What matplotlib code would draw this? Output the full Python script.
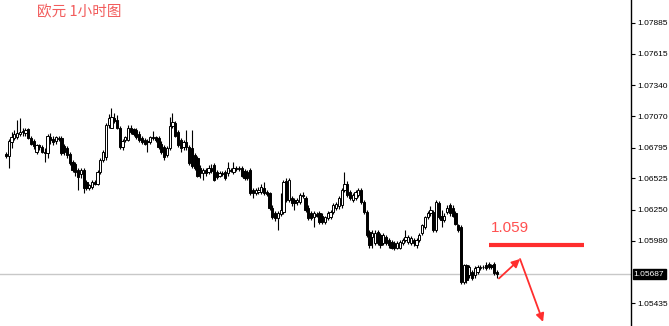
import numpy as np
import matplotlib
matplotlib.use("Agg")
import matplotlib.pyplot as plt

# EURUSD H1 candles
opens = [
    1.0674, 1.0672, 1.0684, 1.0688, 1.0689, 1.0691, 1.0693, 1.0692, 1.0696, 1.0688,
    1.0685, 1.0676, 1.0682, 1.0680, 1.0676, 1.0675, 1.0689, 1.0687, 1.0685, 1.0687,
    1.0688, 1.0681, 1.0679, 1.0674, 1.0667, 1.0665, 1.0660, 1.0656, 1.0660, 1.0649,
    1.0644, 1.0645, 1.0649, 1.0648, 1.0658, 1.0669, 1.0671, 1.0699, 1.0697, 1.0705,
    1.0704, 1.0697, 1.0680, 1.0686, 1.0686, 1.0697, 1.0696, 1.0695, 1.0691, 1.0688,
    1.0686, 1.0685, 1.0684, 1.0689, 1.0689, 1.0688, 1.0683, 1.0680, 1.0673, 1.0679,
    1.0698, 1.0701, 1.0693, 1.0686, 1.0680, 1.0684, 1.0680, 1.0679, 1.0673, 1.0670,
    1.0662, 1.0657, 1.0660, 1.0658, 1.0662, 1.0664, 1.0658, 1.0655, 1.0657, 1.0658,
    1.0657, 1.0660, 1.0658, 1.0662, 1.0661, 1.0662, 1.0659, 1.0658, 1.0660, 1.0642,
    1.0640, 1.0641, 1.0641, 1.0644, 1.0641, 1.0640, 1.0627, 1.0622, 1.0618, 1.0621,
    1.0623, 1.0650, 1.0634, 1.0635, 1.0634, 1.0632, 1.0632, 1.0638, 1.0635, 1.0627,
    1.0622, 1.0619, 1.0621, 1.0622, 1.0620, 1.0614, 1.0618, 1.0619, 1.0623, 1.0627,
    1.0628, 1.0629, 1.0642, 1.0648, 1.0641, 1.0634, 1.0635, 1.0638, 1.0642, 1.0632,
    1.0623, 1.0606, 1.0601, 1.0596, 1.0606, 1.0603, 1.0596, 1.0601, 1.0599, 1.0597,
    1.0596, 1.0592, 1.0592, 1.0596, 1.0599, 1.0597, 1.0596, 1.0599, 1.0594, 1.0599,
    1.0605, 1.0610, 1.0619, 1.0622, 1.0623, 1.0607, 1.0631, 1.0620, 1.0616, 1.0623,
    1.0629, 1.0627, 1.0622, 1.0612, 1.0610, 1.0562, 1.0577, 1.0568, 1.0571, 1.0568,
    1.0571, 1.0574, 1.0575, 1.0577, 1.0578, 1.0577, 1.0578, 1.0571,
]
highs = [
    1.0676, 1.0687, 1.0693, 1.0695, 1.0704, 1.0705, 1.0697, 1.0697, 1.0697, 1.0690,
    1.0687, 1.0683, 1.0683, 1.0682, 1.0679, 1.0691, 1.0692, 1.0690, 1.0690, 1.0690,
    1.0690, 1.0683, 1.0681, 1.0676, 1.0669, 1.0667, 1.0662, 1.0662, 1.0662, 1.0651,
    1.0648, 1.0651, 1.0651, 1.0660, 1.0670, 1.0677, 1.0701, 1.0709, 1.0714, 1.0710,
    1.0708, 1.0698, 1.0687, 1.0690, 1.0699, 1.0699, 1.0697, 1.0697, 1.0694, 1.0690,
    1.0688, 1.0687, 1.0690, 1.0694, 1.0690, 1.0690, 1.0685, 1.0682, 1.0681, 1.0706,
    1.0710, 1.0703, 1.0695, 1.0688, 1.0686, 1.0695, 1.0682, 1.0695, 1.0675, 1.0672,
    1.0664, 1.0662, 1.0662, 1.0664, 1.0665, 1.0666, 1.0660, 1.0659, 1.0659, 1.0660,
    1.0667, 1.0662, 1.0667, 1.0663, 1.0663, 1.0663, 1.0661, 1.0660, 1.0662, 1.0644,
    1.0644, 1.0645, 1.0648, 1.0649, 1.0642, 1.0641, 1.0629, 1.0624, 1.0624, 1.0640,
    1.0651, 1.0653, 1.0653, 1.0637, 1.0635, 1.0635, 1.0640, 1.0641, 1.0637, 1.0629,
    1.0624, 1.0624, 1.0623, 1.0624, 1.0622, 1.0620, 1.0624, 1.0625, 1.0631, 1.0632,
    1.0637, 1.0644, 1.0658, 1.0650, 1.0642, 1.0640, 1.0642, 1.0644, 1.0644, 1.0634,
    1.0625, 1.0607, 1.0607, 1.0607, 1.0607, 1.0605, 1.0605, 1.0603, 1.0600, 1.0599,
    1.0598, 1.0598, 1.0599, 1.0600, 1.0607, 1.0603, 1.0602, 1.0600, 1.0600, 1.0605,
    1.0613, 1.0620, 1.0624, 1.0628, 1.0625, 1.0634, 1.0633, 1.0625, 1.0622, 1.0629,
    1.0631, 1.0629, 1.0624, 1.0613, 1.0612, 1.0578, 1.0578, 1.0577, 1.0572, 1.0576,
    1.0577, 1.0577, 1.0577, 1.0579, 1.0579, 1.0578, 1.0579, 1.0572,
]
lows = [
    1.0670, 1.0662, 1.0679, 1.0686, 1.0687, 1.0690, 1.0690, 1.0690, 1.0687, 1.0682,
    1.0678, 1.0674, 1.0677, 1.0675, 1.0667, 1.0670, 1.0683, 1.0682, 1.0683, 1.0685,
    1.0673, 1.0673, 1.0670, 1.0664, 1.0658, 1.0655, 1.0642, 1.0653, 1.0640, 1.0642,
    1.0642, 1.0643, 1.0647, 1.0647, 1.0656, 1.0667, 1.0669, 1.0697, 1.0697, 1.0701,
    1.0696, 1.0678, 1.0677, 1.0684, 1.0685, 1.0691, 1.0690, 1.0687, 1.0684, 1.0683,
    1.0682, 1.0676, 1.0683, 1.0686, 1.0684, 1.0678, 1.0674, 1.0669, 1.0671, 1.0677,
    1.0697, 1.0689, 1.0680, 1.0676, 1.0677, 1.0677, 1.0664, 1.0662, 1.0660, 1.0654,
    1.0653, 1.0651, 1.0655, 1.0656, 1.0657, 1.0650, 1.0652, 1.0654, 1.0655, 1.0651,
    1.0655, 1.0658, 1.0656, 1.0659, 1.0659, 1.0654, 1.0651, 1.0651, 1.0638, 1.0635,
    1.0638, 1.0639, 1.0639, 1.0638, 1.0637, 1.0625, 1.0617, 1.0615, 1.0607, 1.0620,
    1.0621, 1.0632, 1.0632, 1.0628, 1.0625, 1.0629, 1.0630, 1.0635, 1.0623, 1.0616,
    1.0616, 1.0610, 1.0619, 1.0613, 1.0613, 1.0613, 1.0616, 1.0617, 1.0621, 1.0625,
    1.0626, 1.0627, 1.0641, 1.0636, 1.0634, 1.0632, 1.0634, 1.0636, 1.0630, 1.0621,
    1.0601, 1.0592, 1.0592, 1.0594, 1.0594, 1.0592, 1.0594, 1.0594, 1.0592, 1.0591,
    1.0590, 1.0591, 1.0591, 1.0594, 1.0597, 1.0595, 1.0594, 1.0593, 1.0592, 1.0597,
    1.0603, 1.0608, 1.0617, 1.0620, 1.0606, 1.0606, 1.0617, 1.0610, 1.0614, 1.0621,
    1.0620, 1.0619, 1.0612, 1.0606, 1.0560, 1.0560, 1.0561, 1.0565, 1.0564, 1.0565,
    1.0569, 1.0572, 1.0573, 1.0572, 1.0573, 1.0573, 1.0568, 1.0565,
]
closes = [
    1.0672, 1.0685, 1.0689, 1.0691, 1.0692, 1.0693, 1.0694, 1.0695, 1.0688, 1.0683,
    1.0681, 1.0682, 1.0680, 1.0676, 1.0675, 1.0690, 1.0686, 1.0684, 1.0689, 1.0688,
    1.0675, 1.0676, 1.0673, 1.0666, 1.0660, 1.0658, 1.0654, 1.0660, 1.0644, 1.0644,
    1.0647, 1.0649, 1.0648, 1.0658, 1.0669, 1.0676, 1.0699, 1.0705, 1.0706, 1.0703,
    1.0697, 1.0680, 1.0685, 1.0689, 1.0697, 1.0693, 1.0691, 1.0689, 1.0686, 1.0684,
    1.0683, 1.0684, 1.0689, 1.0688, 1.0686, 1.0680, 1.0676, 1.0671, 1.0679, 1.0698,
    1.0702, 1.0690, 1.0682, 1.0679, 1.0684, 1.0680, 1.0666, 1.0663, 1.0662, 1.0655,
    1.0657, 1.0660, 1.0657, 1.0662, 1.0659, 1.0651, 1.0654, 1.0657, 1.0656, 1.0653,
    1.0662, 1.0659, 1.0662, 1.0661, 1.0662, 1.0655, 1.0653, 1.0653, 1.0640, 1.0640,
    1.0642, 1.0642, 1.0645, 1.0640, 1.0639, 1.0627, 1.0619, 1.0618, 1.0622, 1.0625,
    1.0649, 1.0634, 1.0651, 1.0631, 1.0631, 1.0634, 1.0638, 1.0637, 1.0625, 1.0618,
    1.0618, 1.0622, 1.0620, 1.0614, 1.0614, 1.0619, 1.0622, 1.0623, 1.0629, 1.0630,
    1.0635, 1.0642, 1.0648, 1.0638, 1.0635, 1.0638, 1.0641, 1.0642, 1.0632, 1.0623,
    1.0603, 1.0594, 1.0605, 1.0605, 1.0596, 1.0594, 1.0603, 1.0596, 1.0594, 1.0592,
    1.0592, 1.0596, 1.0597, 1.0599, 1.0601, 1.0601, 1.0600, 1.0596, 1.0599, 1.0603,
    1.0612, 1.0619, 1.0622, 1.0625, 1.0607, 1.0632, 1.0619, 1.0616, 1.0620, 1.0627,
    1.0622, 1.0620, 1.0613, 1.0607, 1.0562, 1.0577, 1.0564, 1.0575, 1.0565, 1.0574,
    1.0575, 1.0575, 1.0575, 1.0574, 1.0575, 1.0575, 1.0570, 1.05687,
]

# price scale labels on the right
tick_prices = [1.07885, 1.07615, 1.07340, 1.07070, 1.06795, 1.06525, 1.06250, 1.05980, 1.05435]
last_price = 1.05687

# annotation: resistance level and expected path
level = 1.0594
level_label = "1.059"
path_x = [177.7, 185.3, 193.6]
path_y = [1.0565, 1.0582, 1.0527]

title = "欧元 1小时图"
red = "#ff2e2e"

o = np.array(opens)
h = np.array(highs)
l = np.array(lows)
c = np.array(closes)
x = np.arange(len(o))

fig = plt.figure(figsize=(6.69, 3.26), dpi=100)
ax = fig.add_axes([0, 0, 631 / 669, 1])

# wicks
ax.vlines(x, l, h, color="black", lw=0.8, zorder=2)
# bodies: bull = white, bear = black
up = c >= o
body_lo = np.minimum(o, c)
body_h = np.abs(c - o)
ax.bar(x[up], body_h[up], bottom=body_lo[up], width=0.8,
       facecolor="white", edgecolor="black", linewidth=0.7, zorder=3)
ax.bar(x[~up], body_h[~up], bottom=body_lo[~up], width=0.8,
       facecolor="black", edgecolor="black", linewidth=0.7, zorder=3)

# current price line
ax.axhline(last_price, color="#c8c8c8", lw=1, zorder=1)

ax.set_xlim(-2.16, 225.3)
ax.set_ylim(1.05234, 1.08086)

for s in ["left", "top", "bottom"]:
    ax.spines[s].set_visible(False)
ax.spines["right"].set_color("black")
ax.spines["right"].set_linewidth(1)
ax.set_xticks([])
ax.yaxis.tick_right()
ax.set_yticks(tick_prices, [f"{p:.5f}" for p in tick_prices])
ax.tick_params(axis="y", length=3, width=0.8, pad=1.5, labelsize=6)
for lab in ax.get_yticklabels():
    lab.set_family("Liberation Sans")

# current price tag
ax.annotate(f"{last_price:.5f}", xy=(1.0, last_price),
            xycoords=("axes fraction", "data"), xytext=(2, 0),
            textcoords="offset points", ha="left", va="center",
            fontsize=6, family="Liberation Sans", color="white",
            bbox=dict(boxstyle="square,pad=0.15", fc="black", ec="black"),
            annotation_clip=False)

# resistance level and arrows
ax.hlines(level, 174.1, 208.4, color=red, lw=3, zorder=4)
ax.text(174.8, 1.0609, level_label, color="#ff5050", fontsize=11,
        family="Liberation Sans", va="center", ha="left")
for i in range(len(path_x) - 1):
    ax.annotate("", xy=(path_x[i + 1], path_y[i + 1]), xytext=(path_x[i], path_y[i]),
                arrowprops=dict(arrowstyle="-|>", color=red, lw=1.3,
                                mutation_scale=12, shrinkA=0, shrinkB=0),
                zorder=5)

fig.text(37 / 669, 1 - 12 / 326, title, color="#f25c5c", fontsize=10.5,
         family=["Noto Sans CJK SC", "DejaVu Sans"], va="center", ha="left")

fig.savefig("out.png", dpi=100, facecolor="white")
